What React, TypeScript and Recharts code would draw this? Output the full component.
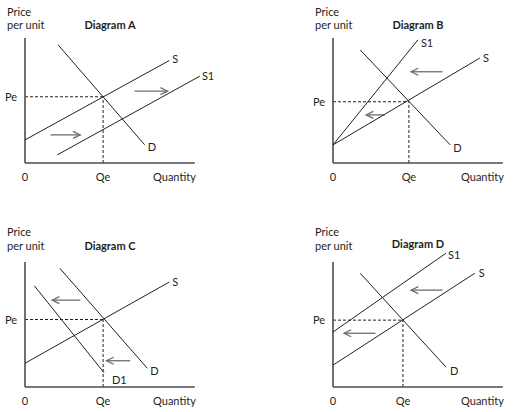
import { LineChart, Line, XAxis, YAxis, ReferenceLine } from 'recharts';

const FONT = 'Lato, "Open Sans", sans-serif';
const INK = '#231f20';
const ARROW = '#6d6e71';

// value space: quantity 0..10 along x, price 0..10 along y
const TITLES = ['Diagram A', 'Diagram B', 'Diagram C', 'Diagram D'];
const PE = [5.3, 4.9, 5.4, 5.35];
const QE = [4.6, 4.47, 4.6, 4.12];
const X_TICKS = ['0', 'Qe', 'Quantity'];
const QUANTITY_AT = 8.8;

const A_S = [{ x: 0, y: 1.85 }, { x: 8.5, y: 8.2 }];
const A_S1 = [{ x: 1.9, y: 0.65 }, { x: 10.3, y: 6.95 }];
const A_D = [{ x: 1.95, y: 9.45 }, { x: 7.05, y: 1.45 }];
const A_ARROWS = [[1.5, 2.25, 3.25, 2.25], [6.45, 5.75, 8.4, 5.75]];

const B_S = [{ x: 0, y: 1.45 }, { x: 8.65, y: 8.4 }];
const B_S1 = [{ x: 0, y: 1.45 }, { x: 5, y: 9.85 }];
const B_D = [{ x: 1.6, y: 9.05 }, { x: 6.9, y: 1.45 }];
const B_ARROWS = [[6.45, 7.3, 4.6, 7.3], [3.05, 3.85, 1.95, 3.85]];

const C_S = [{ x: 0, y: 1.9 }, { x: 8.5, y: 8.4 }];
const C_D = [{ x: 2.05, y: 9.5 }, { x: 7.2, y: 1.5 }];
const C_D1 = [{ x: 0.55, y: 8.1 }, { x: 4.65, y: 1.15 }];
const C_ARROWS = [[3.25, 6.95, 1.6, 6.95], [6.2, 2.1, 4.8, 2.1]];

const D_S = [{ x: 0, y: 1.75 }, { x: 8.35, y: 9.1 }];
const D_S1 = [{ x: 0, y: 4.4 }, { x: 6.65, y: 10.7 }];
const D_D = [{ x: 1.6, y: 9.1 }, { x: 6.65, y: 1.6 }];
const D_ARROWS = [[6.45, 7.75, 4.6, 7.75], [2.5, 4.3, 0.65, 4.3]];

// curve name, points, label offset [dx, dy] from the end point
const PANELS = [
  { lines: [['S', A_S, 3, 2], ['S1', A_S1, 2, 4], ['D', A_D, 3, 6]], arrows: A_ARROWS },
  { lines: [['S', B_S, 3, 4], ['S1', B_S1, 3, 7], ['D', B_D, 3, 7]], arrows: B_ARROWS },
  { lines: [['S', C_S, 3, 4], ['D', C_D, 3, 7], ['D1', C_D1, 8, 11]], arrows: C_ARROWS },
  { lines: [['S', D_S, 4, 4], ['S1', D_S1, 2, 6], ['D', D_D, 4, 8]], arrows: D_ARROWS },
] as const;

const POS = [[0, 0], [308, 0], [0, 224], [308, 224]];
const HEAD_Y = [[11.7, 25, 25], [11.7, 25, 25], [7.7, 21.7, 21.7], [7.7, 21.7, 20.3]];

const txt = { fontFamily: FONT, fontSize: 11, fill: INK };

function Arrow(p: any) {
  const { x1, y1, x2, y2 } = p;
  const a = Math.atan2(y2 - y1, x2 - x1);
  const L = 8, W = 0.45;
  const h1x = x2 - L * Math.cos(a - W), h1y = y2 - L * Math.sin(a - W);
  const h2x = x2 - L * Math.cos(a + W), h2y = y2 - L * Math.sin(a + W);
  return (
    <g stroke={ARROW} strokeWidth={1.3} fill="none">
      <line x1={x1} y1={y1} x2={x2} y2={y2} />
      <polyline points={`${h1x},${h1y} ${x2},${y2} ${h2x},${h2y}`} />
    </g>
  );
}

function Panel({ i }: { i: number }) {
  const panel = PANELS[i];
  const pe = PE[i];
  const qe = QE[i];
  const [px, py] = POS[i];
  const [priceY, unitY, titleY] = HEAD_Y[i];
  return (
    <div style={{ position: 'absolute', left: px, top: py, width: 230, height: 200, fontFamily: FONT, fontSize: 11, color: INK }}>
      <div style={{ position: 'absolute', left: 7, top: priceY - 7, lineHeight: '14px' }}>Price</div>
      <div style={{ position: 'absolute', left: 7, top: unitY - 7, lineHeight: '14px' }}>per unit</div>
      <div style={{ position: 'absolute', left: 60, width: 100, textAlign: 'center', top: titleY - 7, lineHeight: '14px', fontWeight: 700 }}>
        {TITLES[i]}
      </div>
      <LineChart width={230} height={200} margin={{ top: 25.5, right: 25, left: 0, bottom: 0 }}>
        <XAxis
          type="number"
          dataKey="x"
          domain={[0, 10.6]}
          ticks={[0, qe, QUANTITY_AT]}
          interval={0}
          height={37}
          axisLine={false}
          tickLine={false}
          tick={(t: any) => (
            <text key={t.index} x={t.x} y={181} textAnchor="middle" {...txt}>
              {X_TICKS[t.index]}
            </text>
          )}
        />
        <YAxis
          type="number"
          dataKey="y"
          domain={[0, 11]}
          ticks={[pe]}
          width={25}
          axisLine={false}
          tickLine={false}
          tick={(t: any) => (
            <text key={t.index} x={5} y={t.y + 4} textAnchor="start" {...txt}>Pe</text>
          )}
        />
        <ReferenceLine segment={[{ x: 0, y: pe }, { x: qe, y: pe }]} stroke={INK} strokeWidth={1} strokeDasharray="3 2" />
        <ReferenceLine segment={[{ x: qe, y: 0 }, { x: qe, y: pe }]} stroke={INK} strokeWidth={1} strokeDasharray="3 2" />
        <ReferenceLine segment={[{ x: 0, y: 0 }, { x: 10, y: 0 }]} stroke="#4d4d4f" strokeWidth={1.6} />
        <ReferenceLine segment={[{ x: 0, y: 0 }, { x: 0, y: 10 }]} stroke="#4d4d4f" strokeWidth={1.6} />
        {panel.arrows.map((a, k) => (
          <ReferenceLine
            key={`ar${k}`}
            segment={[{ x: a[0], y: a[1] }, { x: a[2], y: a[3] }]}
            shape={(p: any) => <Arrow {...p} />}
          />
        ))}
        {panel.lines.map(([name, pts, dx, dy]) => (
          <Line
            key={name}
            data={pts as any}
            dataKey="y"
            type="linear"
            stroke={INK}
            strokeWidth={1}
            isAnimationActive={false}
            activeDot={false}
            dot={(d: any) =>
              d.index === pts.length - 1 ? (
                <text key={`${name}-lbl`} x={d.cx + dx} y={d.cy + dy} textAnchor="start" {...txt}>
                  {name}
                </text>
              ) : (
                <g key={`${name}-${d.index}`} />
              )
            }
          />
        ))}
      </LineChart>
    </div>
  );
}

export default function App() {
  return (
    <div style={{ position: 'absolute', left: 0, top: 0, width: 518, height: 412, overflow: 'hidden', background: '#fff' }}>
      {TITLES.map((_, i) => (
        <Panel key={i} i={i} />
      ))}
    </div>
  );
}
